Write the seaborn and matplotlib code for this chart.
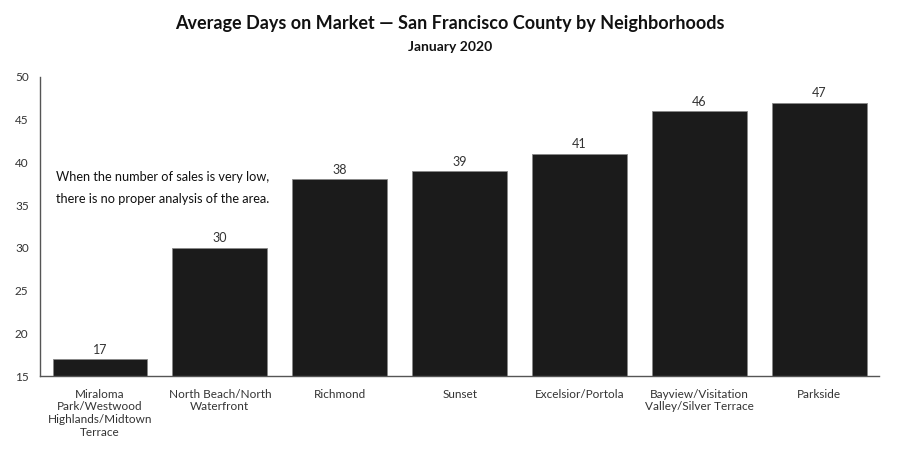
import matplotlib
matplotlib.use("Agg")
import matplotlib.pyplot as plt
import seaborn as sns
import pandas as pd

categories = ["Miraloma\nPark/Westwood\nHighlands/Midtown\nTerrace",
              "North Beach/North\nWaterfront", "Richmond", "Sunset",
              "Excelsior/Portola", "Bayview/Visitation\nValley/Silver Terrace",
              "Parkside"]
values = [17, 30, 38, 39, 41, 46, 47]
yticks = [15, 20, 25, 30, 35, 40, 45, 50]

sns.set_style("white")
plt.rcParams['font.family'] = ['Lato', 'DejaVu Sans']

df = pd.DataFrame({"cat": categories, "val": values})
fig = plt.figure(figsize=(9, 4.5), dpi=100)
ax = fig.add_axes([0.0444, 0.1644, 0.9326, 0.6646])
sns.barplot(data=df, x="cat", y="val", color="#1b1b1b", width=0.79,
            edgecolor="#888888", linewidth=0.6, saturation=1, ax=ax)
ax.set_ylim(15, 50)
ax.set_yticks(yticks)
ax.set_xlabel("")
ax.set_ylabel("")
for i, v in enumerate(values):
    ax.text(i, v + 0.4, str(v), ha="center", va="bottom", fontsize=9, color="#333333")
ax.tick_params(axis="both", length=0, labelsize=8.5, colors="#333333")
ax.tick_params(axis="x", pad=9)
for lab in ax.get_yticklabels():
    lab.set_horizontalalignment("left")
ax.yaxis.set_tick_params(pad=18)
sns.despine(ax=ax)
for s in ["left", "bottom"]:
    ax.spines[s].set_color("#555555")
    ax.spines[s].set_linewidth(1)
ax.text(0.52, 37.0, "When the number of sales is very low,\nthere is no proper analysis of the area.",
        ha="center", va="center", fontsize=9.2, color="#111111", linespacing=2.0)
fig.text(0.5, 0.948, "Average Days on Market — San Francisco County by Neighborhoods",
         ha="center", va="center", fontsize=13, fontweight="bold", color="#111111")
fig.text(0.5, 0.896, "January 2020", ha="center", va="center", fontsize=10,
         fontweight="bold", color="#111111")
fig.savefig("out.png", dpi=100)
